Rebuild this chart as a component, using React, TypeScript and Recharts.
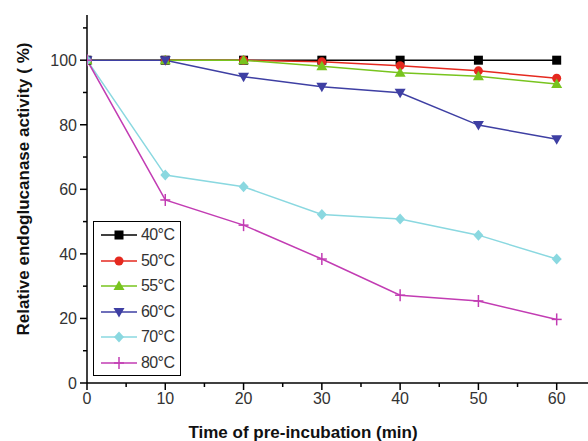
import React from 'react';
import { LineChart, Line, XAxis, YAxis, Label } from 'recharts';

// pre-incubation time (min)
const times = [0, 10, 20, 30, 40, 50, 60];

// relative activity (%) at each temperature
const act40 = [100, 100, 100, 100, 100, 100, 100];
const act50 = [100, 100, 100, 99.5, 98.3, 96.7, 94.4];
const act55 = [100, 100, 100, 98.1, 96.1, 95, 92.6];
const act60 = [100, 100, 94.9, 91.8, 89.9, 79.9, 75.5];
const act70 = [100, 64.4, 60.8, 52.2, 50.8, 45.8, 38.4];
const act80 = [100, 56.7, 48.9, 38.4, 27.2, 25.4, 19.7];

const seriesNames = ['40°C', '50°C', '55°C', '60°C', '70°C', '80°C'];

const xTicks = [0, 5, 10, 15, 20, 25, 30, 35, 40, 45, 50, 55, 60];
const yTicks = [0, 10, 20, 30, 40, 50, 60, 70, 80, 90, 100, 110];

const data = times.map((t, i) => ({
  t,
  s40: act40[i],
  s50: act50[i],
  s55: act55[i],
  s60: act60[i],
  s70: act70[i],
  s80: act80[i],
}));

type Shape = 'square' | 'circle' | 'up' | 'down' | 'diamond' | 'plus';

const series: { key: string; name: string; color: string; shape: Shape }[] = [
  { key: 's40', name: seriesNames[0], color: '#000000', shape: 'square' },
  { key: 's50', name: seriesNames[1], color: '#e5291f', shape: 'circle' },
  { key: 's55', name: seriesNames[2], color: '#78c41e', shape: 'up' },
  { key: 's60', name: seriesNames[3], color: '#3e3fa3', shape: 'down' },
  { key: 's70', name: seriesNames[4], color: '#8ad8e0', shape: 'diamond' },
  { key: 's80', name: seriesNames[5], color: '#c23cb3', shape: 'plus' },
];

const FONT = 'Arial, "Liberation Sans", sans-serif';

function Marker({ cx, cy, shape, color }: { cx: number; cy: number; shape: Shape; color: string }) {
  switch (shape) {
    case 'square':
      return <rect x={cx - 4.5} y={cy - 4.5} width={9} height={9} fill={color} />;
    case 'circle':
      return <circle cx={cx} cy={cy} r={4.5} fill={color} />;
    case 'up':
      return <polygon points={`${cx},${cy - 5.5} ${cx + 5.5},${cy + 4} ${cx - 5.5},${cy + 4}`} fill={color} />;
    case 'down':
      return <polygon points={`${cx},${cy + 5.5} ${cx + 5.5},${cy - 4} ${cx - 5.5},${cy - 4}`} fill={color} />;
    case 'diamond':
      return <polygon points={`${cx},${cy - 5.5} ${cx + 5},${cy} ${cx},${cy + 5.5} ${cx - 5},${cy}`} fill={color} />;
    case 'plus':
      return (
        <g stroke={color} strokeWidth={1.5}>
          <line x1={cx - 5} y1={cy} x2={cx + 5} y2={cy} />
          <line x1={cx} y1={cy - 6} x2={cx} y2={cy + 6} />
        </g>
      );
  }
  return null;
}

const makeDot = (shape: Shape, color: string) => (props: any) => {
  const { cx, cy, index } = props;
  return (
    <g key={`${shape}-${index}`}>
      <Marker cx={cx} cy={cy} shape={shape} color={color} />
    </g>
  );
};

const XTick = (props: any) => {
  const { x, y, payload } = props;
  const major = payload.value % 10 === 0;
  return (
    <g>
      <line x1={x} y1={y} x2={x} y2={y + (major ? 7 : 4)} stroke="#000" strokeWidth={1.5} />
      {major && (
        <text x={x} y={y + 21} textAnchor="middle" fontSize={16} fontFamily={FONT} fill="#333">
          {payload.value}
        </text>
      )}
    </g>
  );
};

const YTick = (props: any) => {
  const { x, y, payload } = props;
  const major = payload.value % 20 === 0 && payload.value <= 100;
  return (
    <g>
      <line x1={x} y1={y} x2={x - (major ? 7 : 4)} y2={y} stroke="#000" strokeWidth={1.5} />
      {major && (
        <text x={x - 10} y={y + 6} textAnchor="end" fontSize={16} fontFamily={FONT} fill="#333">
          {payload.value}
        </text>
      )}
    </g>
  );
};

const LegendBox = () => (
  <div
    style={{
      position: 'absolute',
      left: 93,
      top: 221,
      width: 86,
      height: 153,
      border: '1.5px solid #000',
      background: '#fff',
      fontFamily: FONT,
      fontSize: 16,
      color: '#333',
    }}
  >
    {series.map((s, i) => (
      <div
        key={s.key}
        style={{ position: 'absolute', left: 0, top: 1 + i * 25.6, height: 24, display: 'flex', alignItems: 'center' }}
      >
        <svg width={47} height={24}>
          <line x1={7} y1={12} x2={43} y2={12} stroke={s.color} strokeWidth={1.5} />
          <Marker cx={25} cy={12} shape={s.shape} color={s.color} />
        </svg>
        <span style={{ letterSpacing: -0.6 }}>{s.name}</span>
      </div>
    ))}
  </div>
);

export default function App() {
  return (
    <div style={{ position: 'absolute', left: 0, top: 0, width: 588, height: 441, background: '#fff' }}>
      <LineChart width={588} height={441} data={data} margin={{ top: 15, right: 0, bottom: 0, left: 0 }}>
        <XAxis
          dataKey="t"
          type="number"
          domain={[0, 64]}
          ticks={xTicks}
          tick={<XTick />}
          tickLine={false}
          tickSize={0}
          tickMargin={0}
          height={58}
          axisLine={{ stroke: '#000', strokeWidth: 1.5 }}
          allowDataOverflow
        >
          <Label
            content={() => (
              <text x={303} y={438} textAnchor="middle" fontSize={17} fontWeight="bold" fontFamily={FONT} fill="#111">
                Time of pre-incubation (min)
              </text>
            )}
          />
        </XAxis>
        <YAxis
          type="number"
          domain={[0, 114]}
          ticks={yTicks}
          tick={<YTick />}
          tickLine={false}
          tickSize={0}
          tickMargin={0}
          width={87}
          axisLine={{ stroke: '#000', strokeWidth: 1.5 }}
          allowDataOverflow
        >
          <Label
            content={() => (
              <text
                x={29}
                y={189}
                transform="rotate(-90 29 189)"
                textAnchor="middle"
                fontSize={17}
                fontWeight="bold"
                fontFamily={FONT}
                fill="#111"
                xmlSpace="preserve"
              >
                Relative endoglucanase activity ( %)
              </text>
            )}
          />
        </YAxis>
        {series.map((s) => (
          <Line
            key={s.key}
            dataKey={s.key}
            name={s.name}
            stroke={s.color}
            strokeWidth={1.5}
            dot={makeDot(s.shape, s.color)}
            activeDot={false}
            isAnimationActive={false}
          />
        ))}
      </LineChart>
      <LegendBox />
    </div>
  );
}
